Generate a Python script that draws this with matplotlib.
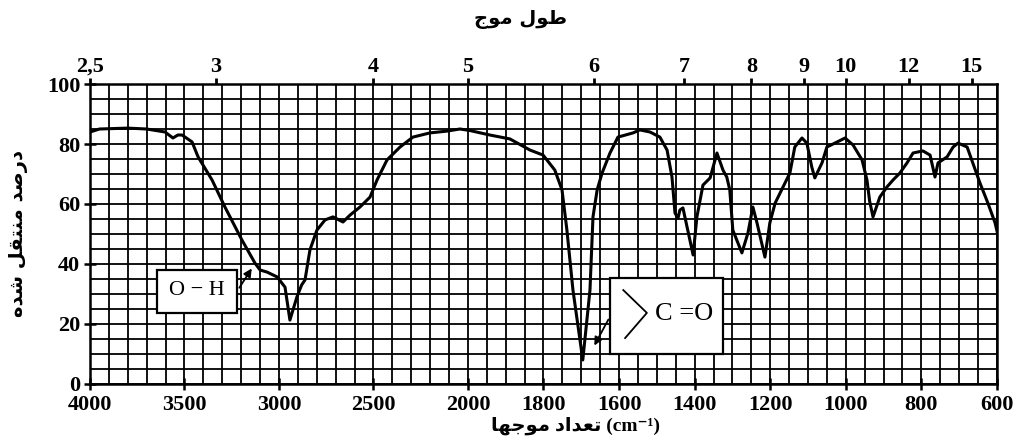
import numpy as np
import matplotlib
matplotlib.use("Agg")
import matplotlib.pyplot as plt
from matplotlib.patches import Rectangle
from matplotlib.lines import Line2D
from matplotlib.ticker import FixedLocator, MultipleLocator

# spectrum (wavenumber in cm-1, transmittance in %)
wavenumber = [4000, 3950, 3800, 3700, 3603, 3561, 3535, 3513, 3460, 3428, 3354, 3286,
              3196, 3127, 3100, 3063, 3010, 2968, 2942, 2905, 2880, 2862, 2836, 2799,
              2756, 2714, 2661, 2624, 2571, 2518, 2481, 2428, 2359, 2291, 2201, 2111,
              2042, 1995, 1942, 1889, 1836, 1801, 1770, 1751, 1738, 1722, 1696, 1677,
              1669, 1658, 1645, 1624, 1603, 1563, 1545, 1518, 1492, 1473, 1460, 1452,
              1444, 1439, 1431, 1404, 1394, 1378, 1359, 1341, 1325, 1315, 1307, 1299,
              1275, 1259, 1246, 1235, 1214, 1201, 1187, 1166, 1148, 1135, 1116, 1103,
              1090, 1082, 1063, 1050, 1029, 1002, 981, 957, 944, 937, 928, 910, 891,
              875, 857, 838, 822, 796, 777, 764, 756, 732, 716, 703, 679, 664, 645,
              624, 605, 600]
transmittance = [84, 85, 85.3, 85, 84, 82, 83, 83, 80.7, 75.7, 68, 59,
                 48, 40.3, 38, 37.3, 35.7, 32.3, 21.3, 29, 33, 34.7, 44.7, 51.3,
                 54.7, 55.7, 54, 56.3, 59, 62.3, 68, 74.7, 79, 82.3, 83.7, 84.3,
                 85, 84.5, 83, 81.7, 78, 76.3, 71.3, 64.7, 51.3, 31.3, 8, 31.3,
                 55.7, 64.7, 70.3, 77, 82.3, 83.7, 84.7, 84, 82.3, 78, 69, 57,
                 55.3, 58, 58.7, 43, 55.7, 66.3, 68.7, 77, 71.3, 69, 64.7, 51.3,
                 43.7, 50.3, 59, 53.7, 42.3, 53.7, 60.3, 65.7, 70.3, 79, 82, 80.3,
                 72.3, 68.7, 73.7, 79, 80.3, 82, 79.7, 74.7, 68, 61, 55.7, 62.3, 65.7,
                 68, 70.3, 73.7, 77, 77.7, 76.3, 69, 73.7, 75.7, 79, 80.3, 79, 73.7, 67,
                 60.3, 53.7, 51]

bottom_ticks = [4000, 3500, 3000, 2500, 2000, 1800, 1600, 1400, 1200, 1000, 800, 600]
wavelength_ticks = [2.5, 3, 4, 5, 6, 7, 8, 9, 10, 12, 15]
wavelength_labels = ["2,5", "3", "4", "5", "6", "7", "8", "9", "10", "12", "15"]
y_ticks = [0, 20, 40, 60, 80, 100]

# simple arabic shaping (presentation forms, visual order) since matplotlib has no bidi
FORMS = {
    'ا': (0xFE8D, 0xFE8E, None, None),
    'ت': (0xFE95, 0xFE96, 0xFE97, 0xFE98),
    'ج': (0xFE9D, 0xFE9E, 0xFE9F, 0xFEA0),
    'د': (0xFEA9, 0xFEAA, None, None),
    'ر': (0xFEAD, 0xFEAE, None, None),
    'ش': (0xFEB5, 0xFEB6, 0xFEB7, 0xFEB8),
    'ص': (0xFEB9, 0xFEBA, 0xFEBB, 0xFEBC),
    'ط': (0xFEC1, 0xFEC2, 0xFEC3, 0xFEC4),
    'ع': (0xFEC9, 0xFECA, 0xFECB, 0xFECC),
    'ق': (0xFED5, 0xFED6, 0xFED7, 0xFED8),
    'ل': (0xFEDD, 0xFEDE, 0xFEDF, 0xFEE0),
    'م': (0xFEE1, 0xFEE2, 0xFEE3, 0xFEE4),
    'ن': (0xFEE5, 0xFEE6, 0xFEE7, 0xFEE8),
    'ه': (0xFEE9, 0xFEEA, 0xFEEB, 0xFEEC),
    'و': (0xFEED, 0xFEEE, None, None),
}


def shape(s):
    out = []
    for i, ch in enumerate(s):
        if ch not in FORMS:
            out.append(ch)
            continue
        prev = s[i - 1] if i > 0 else ''
        nxt = s[i + 1] if i + 1 < len(s) else ''
        jp = prev in FORMS and FORMS[prev][2] is not None
        jn = nxt in FORMS and FORMS[ch][2] is not None
        iso, fin, ini, med = FORMS[ch]
        if jp and jn:
            c = med
        elif jp:
            c = fin
        elif jn:
            c = ini
        else:
            c = iso
        out.append(chr(c))
    return ''.join(reversed(out))


# IR chart paper: scale doubles below 2000 cm-1
def fwd(w):
    w = np.asarray(w, dtype=float)
    return np.where(w >= 2000, w + 2000, 2 * w)


def inv(p):
    p = np.asarray(p, dtype=float)
    return np.where(p >= 4000, p - 2000, p / 2)


num_font = dict(family=['Liberation Serif', 'DejaVu Sans'], weight='bold', size=16)
ar_font = dict(family=['DejaVu Sans'], weight='bold', size=14)

fig = plt.figure(figsize=(10.17, 4.41), dpi=100)
ax = fig.add_axes([0.0885, 0.1293, 0.8918, 0.6802])
ax.set_xscale('function', functions=(fwd, inv))
ax.set_xlim(4000, 600)
ax.set_ylim(0, 100)

grid_x = list(range(4000, 2000, -100)) + list(range(2000, 550, -50))
ax.xaxis.set_major_locator(FixedLocator(bottom_ticks))
ax.xaxis.set_minor_locator(FixedLocator(grid_x))
ax.yaxis.set_major_locator(FixedLocator(y_ticks))
ax.yaxis.set_minor_locator(MultipleLocator(5))
ax.grid(True, which='both', color='black', linewidth=1.3)
ax.set_axisbelow(True)
ax.tick_params(which='minor', length=0)
ax.tick_params(which='major', direction='inout', length=8, width=1.8)
ax.tick_params(axis='x', which='major', pad=4)
ax.tick_params(axis='y', which='major', pad=3)
ax.set_xticklabels([str(t) for t in bottom_ticks], fontdict=num_font)
ax.set_yticklabels([str(t) for t in y_ticks], fontdict=num_font)
for s in ax.spines.values():
    s.set_linewidth(1.8)

ax.plot(wavenumber, transmittance, color='black', linewidth=2.2, zorder=3)

ax2 = ax.twiny()
ax2.set_xscale('function', functions=(fwd, inv))
ax2.set_xlim(4000, 600)
ax2.set_xticks([10000 / l for l in wavelength_ticks])
ax2.set_xticklabels(wavelength_labels, fontdict=num_font)
ax2.xaxis.set_minor_locator(FixedLocator([]))
ax2.tick_params(which='major', direction='out', length=4, width=2, pad=1)
for s in ax2.spines.values():
    s.set_visible(False)

# labels
fig.text(0.512, 0.955, shape('طول موج'), ha='center', va='center', fontdict=ar_font)
fig.text(0.018, 0.47, shape('درصد منتقل شده'), ha='center', va='center',
         rotation=90, fontdict=ar_font)
fig.text(0.566, 0.035, shape('تعداد موجها') + ' (cm⁻¹)', ha='center', va='center',
         family=['Liberation Serif', 'DejaVu Sans'], weight='bold', size=14)

# O-H box
ax.add_patch(Rectangle((0.0739, 0.237), 0.0882, 0.143, transform=ax.transAxes,
                       facecolor='white', edgecolor='black', linewidth=1.6, zorder=4))
ax.text(0.118, 0.31, 'O − H', transform=ax.transAxes, ha='center', va='center',
        family='Liberation Serif', size=16, zorder=5)
ax.annotate('', xy=(0.180, 0.393), xytext=(0.163, 0.313),
            xycoords='axes fraction', textcoords='axes fraction',
            arrowprops=dict(arrowstyle='-|>', color='black', lw=1.3, mutation_scale=12),
            zorder=5)

# C=O box
ax.add_patch(Rectangle((0.573, 0.10), 0.1246, 0.253, transform=ax.transAxes,
                       facecolor='white', edgecolor='black', linewidth=1.6, zorder=4))
ax.add_line(Line2D([0.588, 0.614, 0.590], [0.313, 0.237, 0.153], transform=ax.transAxes,
                   color='black', linewidth=1.3, zorder=5))
ax.text(0.655, 0.232, 'C =O', transform=ax.transAxes, ha='center', va='center',
        family='Liberation Serif', size=19, zorder=5)
ax.annotate('', xy=(0.5546, 0.12), xytext=(0.573, 0.223),
            xycoords='axes fraction', textcoords='axes fraction',
            arrowprops=dict(arrowstyle='-|>', color='black', lw=1.3, mutation_scale=12),
            zorder=5)

fig.savefig('out.png', dpi=100)
